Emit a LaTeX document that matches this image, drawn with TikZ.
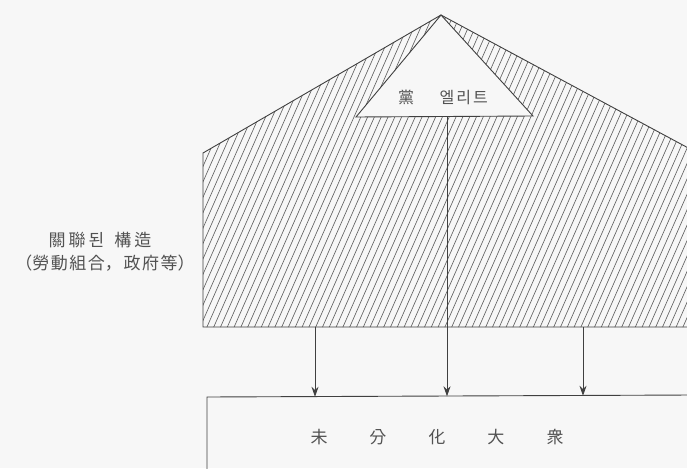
\documentclass[tikz,border=0pt]{standalone}
\usepackage{fontspec}
\setmainfont{Noto Sans CJK KR}
\usetikzlibrary{arrows.meta}
\begin{document}
\begin{tikzpicture}[x=1pt,y=-1pt,
  line/.style={draw=black!75, line width=0.9pt},
  hatch/.style={draw=black!62, line width=0.65pt},
  arr/.style={line, -{Stealth[length=10pt,width=7pt]}},
  lbl/.style={text=black!68, inner sep=0pt}]
\useasboundingbox (0,0) rectangle (687,468);
\fill[black!3] (0,0) rectangle (687,468);
% outline points
\coordinate (apex) at (441,15);
\coordinate (ls) at (203,153);
\coordinate (rs) at (692,150);
\coordinate (lb) at (203,327);
\coordinate (rb) at (692,327);
\coordinate (tl) at (356,117);
\coordinate (tr) at (533,116);
\coordinate (tb) at (447,116.5);
% hatching of the related structure
\begin{scope}
  \clip (apex) -- (rs) -- (rb) -- (lb) -- (ls) -- cycle;
  \foreach \x in {-200,-193.2,...,700} \draw[hatch] (\x,340) -- ++(150,-340);
\end{scope}
\fill[black!3] (apex) -- (tl) -- (tr) -- cycle;
\draw[line] (apex) -- (rs) -- (rb) -- (lb) -- (ls) -- cycle;
\draw[line] (apex) -- (tl) -- (tr) -- cycle;
% mass box
\coordinate (bl) at (207,397);
\coordinate (br) at (692,395);
\coordinate (bbot) at (207,475);
\draw[line] (br) -- (bl) -- (bbot);
% arrows
\coordinate (a1) at (315,327);
\coordinate (a3) at (583,327);
\coordinate (e1) at (315,396.8);
\coordinate (e2) at (447,396.3);
\coordinate (e3) at (583,395.8);
\draw[arr] (a1) -- (e1);
\draw[arr] (tb) -- (e2);
\draw[arr] (a3) -- (e3);
% labels
\node[lbl, font=\fontsize{16}{19}\selectfont] (elite) at (443,97) {黨\hspace{1.6em}엘\hspace{2pt}리\hspace{2pt}트};
\node[lbl, font=\fontsize{17}{20}\selectfont] (rel1) at (100,240) {關\hspace{3pt}聯\hspace{3pt}된\hspace{0.6em}構\hspace{3pt}造};
\node[lbl, font=\fontsize{17}{20}\selectfont] (rel2) at (105,263) {（勞\hspace{1.5pt}動\hspace{1.5pt}組\hspace{1.5pt}合，\hspace{0.1em}政\hspace{1.5pt}府\hspace{1.5pt}等）};
\node[lbl, font=\fontsize{17}{20}\selectfont] (mass) at (437,437) {未\hspace{42pt}分\hspace{42pt}化\hspace{42pt}大\hspace{42pt}衆};
\end{tikzpicture}
\end{document}
